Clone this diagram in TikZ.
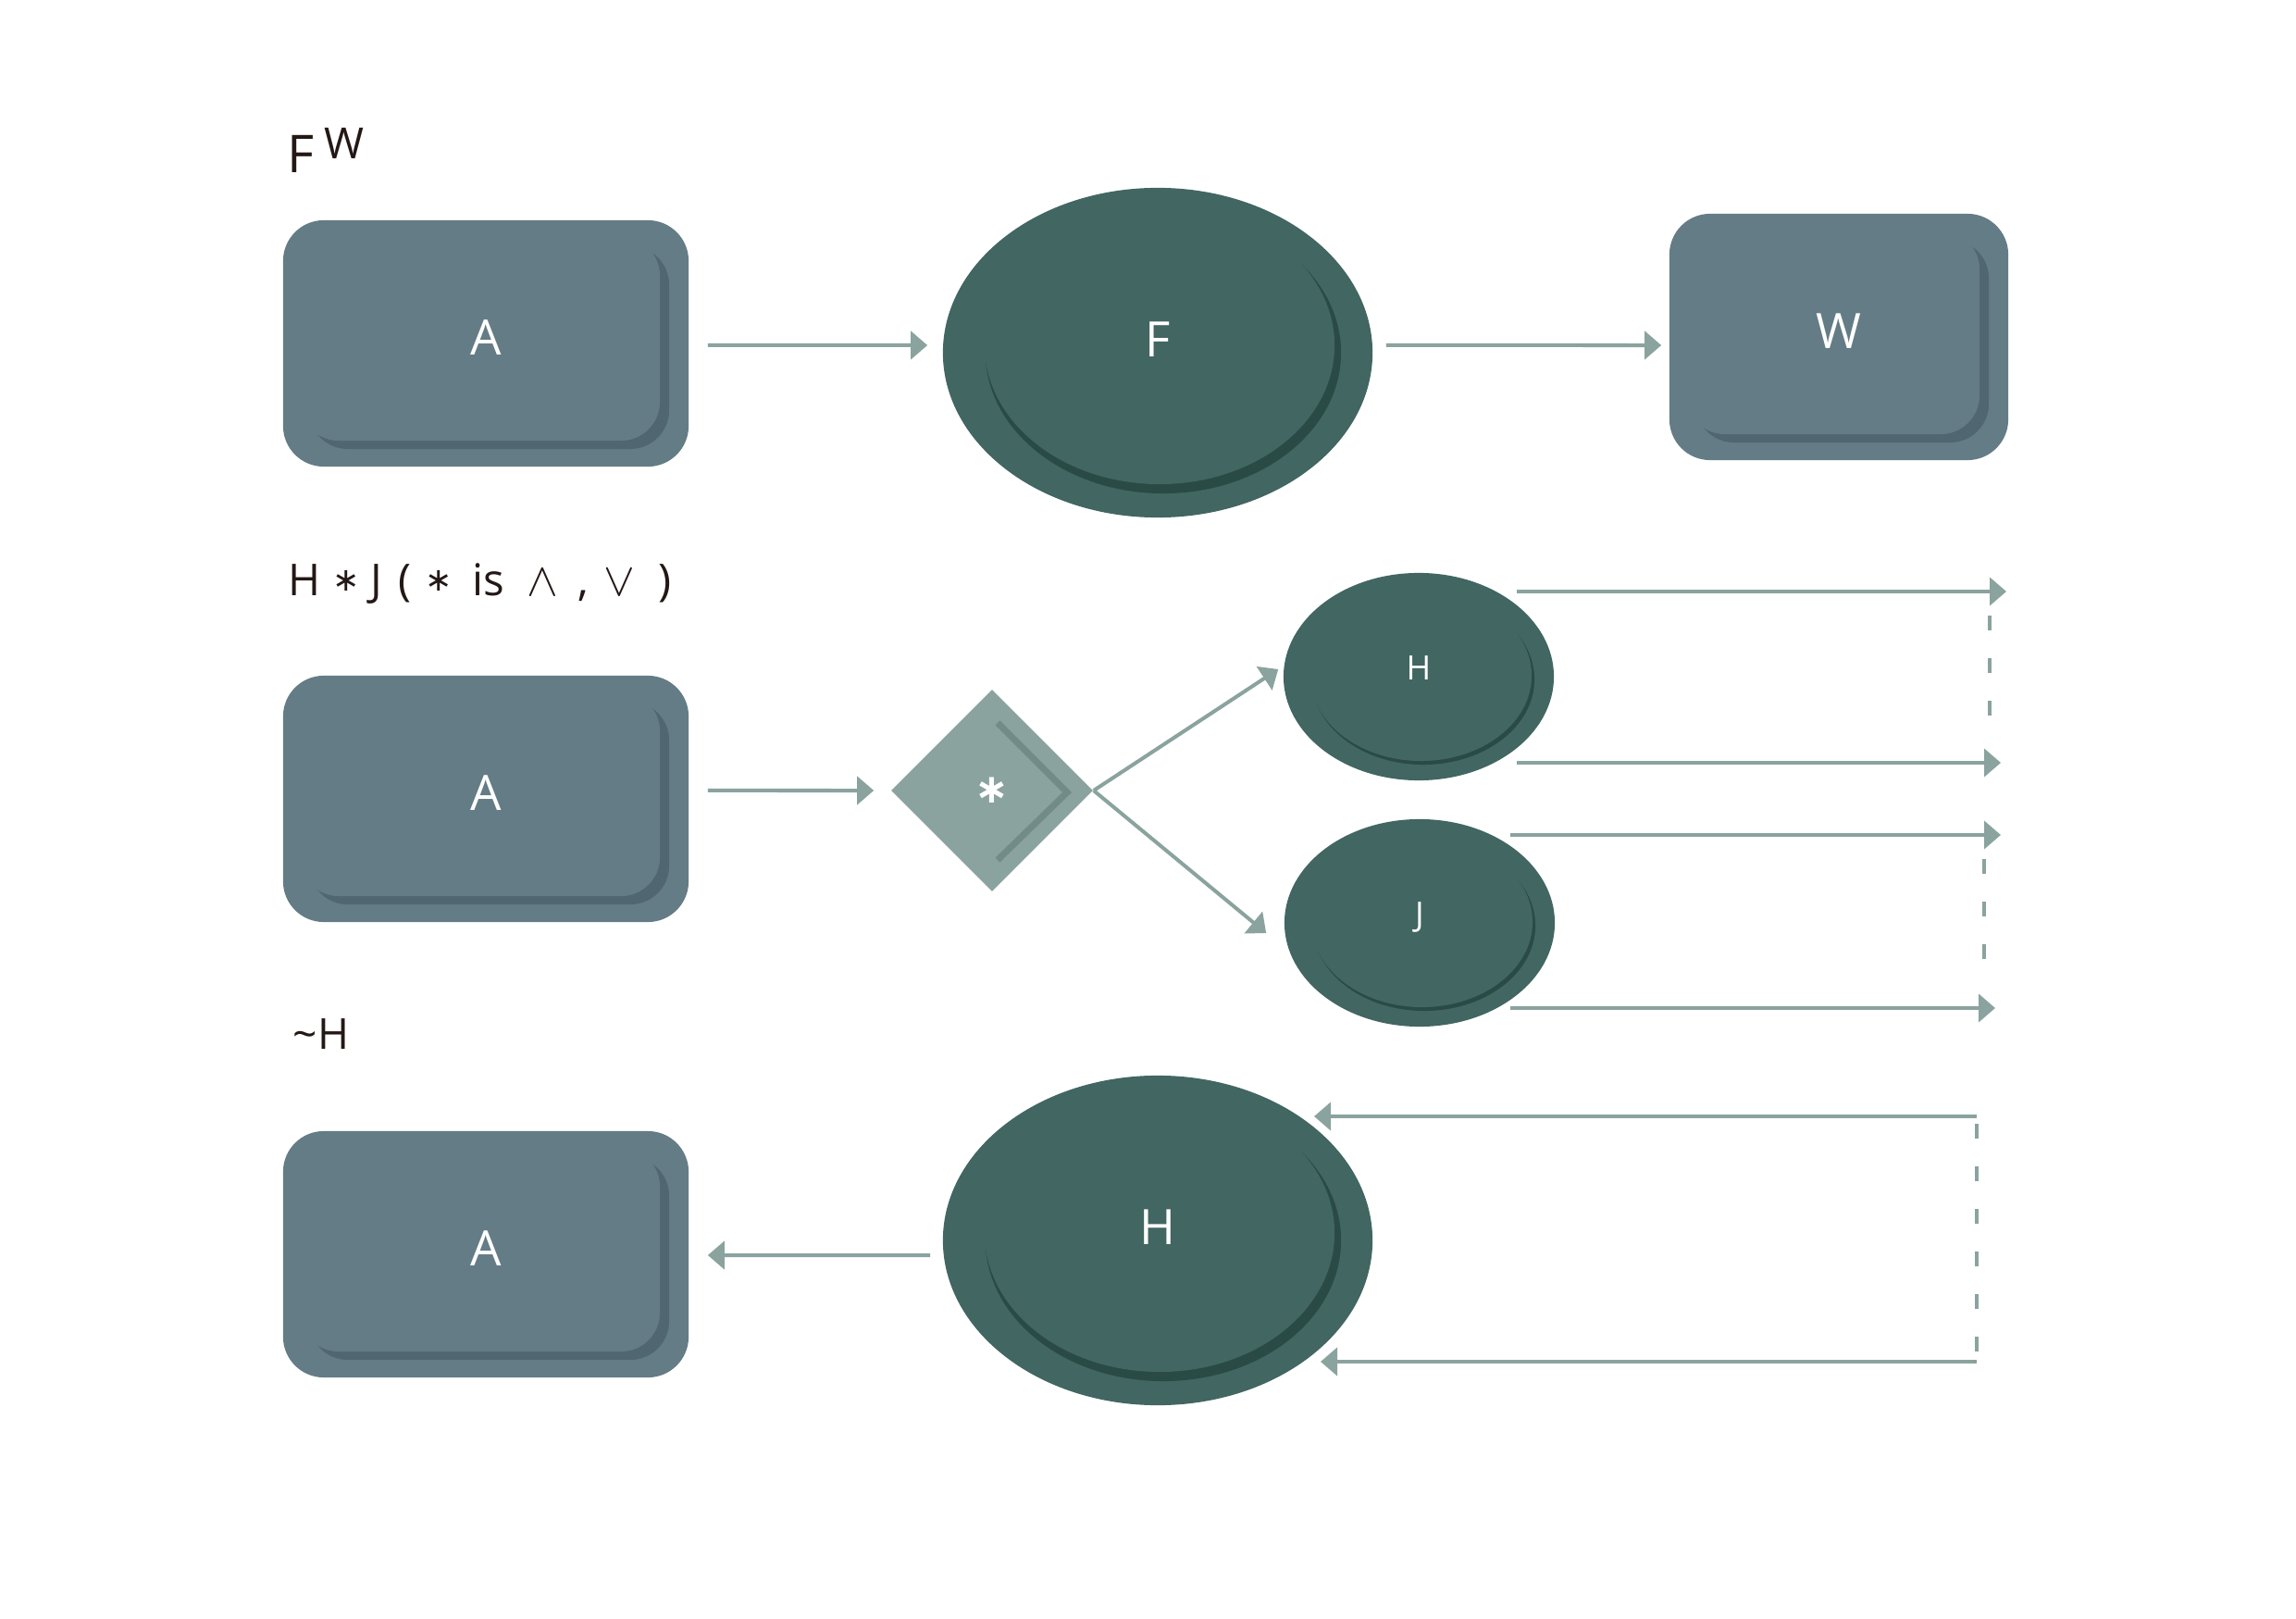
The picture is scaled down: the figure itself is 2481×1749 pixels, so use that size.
\documentclass[tikz,border=0pt]{standalone}
\usepackage{fontspec}
\setmainfont{Open Sans}
\newfontfamily\dejavu{DejaVu Sans}
\usetikzlibrary{shapes.geometric,arrows.meta}
\definecolor{boxC}{HTML}{647C85}
\definecolor{boxD}{HTML}{506670}
\definecolor{ellC}{HTML}{426662}
\definecolor{ellD}{HTML}{2A4B45}
\definecolor{arrC}{HTML}{8AA39E}
\definecolor{chevC}{HTML}{718C87}
\definecolor{ink}{HTML}{231815}
\newcommand{\opstar}{\raisebox{0.045cm}{\fontsize{10}{12}\dejavu ∗}}
\begin{document}
\begin{tikzpicture}[x={(0.01cm,0)}, y={(0,-0.01cm)},
  box/.style={rectangle, rounded corners=0.44cm, fill=boxC, minimum width=4.38cm, minimum height=2.66cm,
    inner sep=0pt, text=white, font=\fontsize{15}{18}\selectfont, text height=0.4cm, text depth=0.16cm,
    path picture={
      \fill[boxD, rounded corners=0.42cm] ([shift={(0.28cm,-0.28cm)}]path picture bounding box.north west) rectangle ([shift={(-0.21cm,0.19cm)}]path picture bounding box.south east);
      \fill[boxC, rounded corners=0.42cm] ([shift={(0.18cm,-0.18cm)}]path picture bounding box.north west) rectangle ([shift={(-0.31cm,0.28cm)}]path picture bounding box.south east);
    }},
  bigell/.style={ellipse, fill=ellC, minimum width=4.64cm, minimum height=3.56cm, inner sep=0pt,
    text=white, font=\fontsize{15}{18}\selectfont, text height=0.4cm, text depth=0.32cm,
    path picture={
      \fill[ellD] ([shift={(0.06cm,0cm)}]path picture bounding box.center) ellipse [x radius=1.92cm, y radius=1.52cm];
      \fill[ellC] ([shift={(0.02cm,0.08cm)}]path picture bounding box.center) ellipse [x radius=1.89cm, y radius=1.50cm];
    }},
  smallell/.style={ellipse, fill=ellC, minimum width=2.92cm, minimum height=2.24cm, inner sep=0pt,
    text=white, font=\fontsize{10.3}{12}\selectfont, text height=0.3cm, text depth=0.23cm,
    path picture={
      \fill[ellD] ([shift={(0.05cm,-0.03cm)}]path picture bounding box.center) ellipse [x radius=1.20cm, y radius=0.92cm];
      \fill[ellC] ([shift={(0.025cm,0.01cm)}]path picture bounding box.center) ellipse [x radius=1.195cm, y radius=0.92cm];
    }},
  dia/.style={diamond, fill=arrC, minimum width=2.18cm, minimum height=2.18cm, inner sep=0pt, aspect=1,
    text=white, font=\fontsize{12.5}{14}\selectfont\dejavu\bfseries,
    path picture={
      \draw[chevC, line width=0.07cm] ([shift={(0.06cm,0.73cm)}]path picture bounding box.center)
        -- ([shift={(0.81cm,-0.02cm)}]path picture bounding box.center)
        -- ([shift={(0.06cm,-0.75cm)}]path picture bounding box.center);
    }},
  ttl/.style={anchor=base west, inner sep=0pt, text=ink},
  arr/.style={draw=arrC, line width=0.04cm, -{Triangle[length=0.18cm, width=0.30cm]}},
  dsh/.style={draw=arrC, line width=0.04cm, dash pattern=on 0.16cm off 0.30cm}
]
\useasboundingbox (0,0) rectangle (2481,1749);

% titles
\node[ttl, font=\fontsize{16}{19}\selectfont] (t1) at (310,187) {F\hspace{0.11cm}\raisebox{0.15cm}{\fontsize{13.2}{15}\selectfont W}};
\node[ttl, font=\fontsize{13.5}{16}\selectfont] (t2) at (311,643) {H\ \opstar\ J\hspace{0.05cm}\ (\hspace{0.02cm}\ \opstar\hspace{-0.03cm}\ \ is\hspace{0.24cm}$\wedge$\hspace{0.22cm},\hspace{0.16cm}$\vee$\hspace{0.25cm})};
\node[ttl, font=\fontsize{13.1}{16}\selectfont] (t3) at (316,1133) {\textasciitilde H};

% row 1
\node[box] (A1) at (525,371) {A};
\node[bigell] (F) at (1251,381) {F};
\node[box, minimum width=3.66cm] (W) at (1987,364) {W};
\draw[arr] ([shift={(0.2cm,-0.02cm)}]A1.east) -- ([shift={(-0.16cm,0.08cm)}]F.west);
\draw[arr] ([shift={(0.14cm,0.08cm)}]F.east) -- ([shift={(-0.08cm,-0.09cm)}]W.west);

% row 2
\node[box] (A2) at (525,863) {A};
\node[dia] (D) at (1072,854) {∗};
\node[smallell] (Hs) at (1533,731) {H};
\node[smallell] (Js) at (1534,997) {J};
\draw[arr] ([shift={(0.2cm,0.09cm)}]A2.east) -- ([xshift=-0.18cm]D.west);
\draw[arr] (D.east) -- ([shift={(-0.05cm,0.08cm)}]Hs.west);
\draw[arr] (D.east) -- ([shift={(-0.19cm,-0.11cm)}]Js.west);

\coordinate (h1a) at (1639,639);  \coordinate (h1b) at (2168,639);
\coordinate (h2a) at (1639,824);  \coordinate (h2b) at (2162,824);
\coordinate (j1a) at (1632,902);  \coordinate (j1b) at (2162,902);
\coordinate (j2a) at (1632,1089); \coordinate (j2b) at (2156,1089);
\coordinate (hd1) at (2150,665);  \coordinate (hd2) at (2150,775);
\coordinate (jd1) at (2144,928);  \coordinate (jd2) at (2144,1038);
\draw[arr] (h1a) -- (h1b);
\draw[arr] (h2a) -- (h2b);
\draw[arr] (j1a) -- (j1b);
\draw[arr] (j2a) -- (j2b);
\draw[dsh] (hd1) -- (hd2);
\draw[dsh] (jd1) -- (jd2);

% row 3
\node[box] (A3) at (525,1355) {A};
\node[bigell] (Hb) at (1251,1340) {H};
\draw[arr] ([shift={(-0.13cm,-0.16cm)}]Hb.west) -- ([shift={(0.2cm,-0.01cm)}]A3.east);
\coordinate (b1a) at (2136,1206); \coordinate (b1b) at (1420,1206);
\coordinate (b2a) at (2136,1471); \coordinate (b2b) at (1427,1471);
\coordinate (bd1) at (2136,1214); \coordinate (bd2) at (2136,1462);
\draw[arr] (b1a) -- (b1b);
\draw[arr] (b2a) -- (b2b);
\draw[dsh] (bd1) -- (bd2);
\end{tikzpicture}
\end{document}
